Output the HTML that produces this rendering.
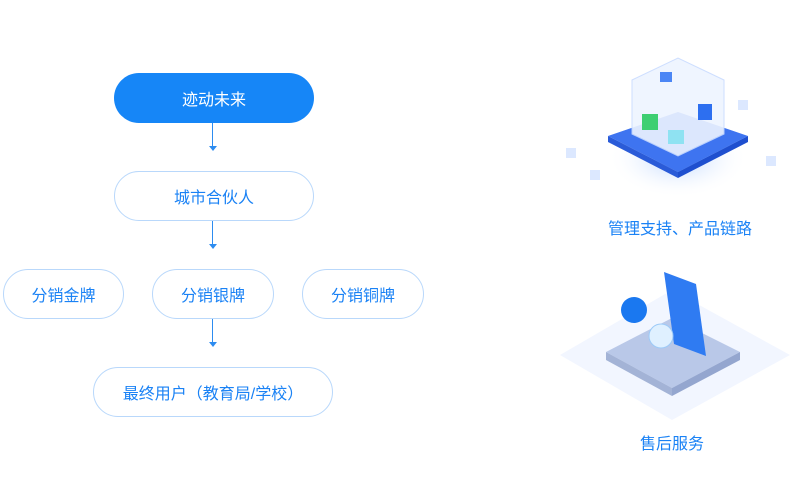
<!DOCTYPE html><html><head><meta charset="utf-8"><style>
body{margin:0;width:810px;height:500px;background:#fff;position:relative;overflow:hidden;font-family:"Liberation Sans","Noto Sans CJK SC",sans-serif}
.n{position:absolute;box-sizing:border-box;border:1px solid #b9d8fb;border-radius:25px;color:#1a82f5;font-size:16px;display:flex;align-items:center;justify-content:center;background:#fff}
.a{position:absolute;left:212px;width:1px;background:#2d8cf0}
.h{position:absolute;left:209px;width:0;height:0;border-left:4px solid transparent;border-right:4px solid transparent;border-top:5px solid #2d8cf0}
.t{position:absolute;color:#1a82f5;font-size:16px;text-align:center}
</style></head><body>
<div class="n" style="left:114px;top:73px;width:200px;height:50px;background:#1686f7;border:none;color:#fff">迹动未来</div>
<div class="a" style="top:123px;height:24px"></div><div class="h" style="top:146px"></div>
<div class="n" style="left:114px;top:171px;width:200px;height:50px">城市合伙人</div>
<div class="a" style="top:221px;height:24px"></div><div class="h" style="top:244px"></div>
<div class="n" style="left:3px;top:269px;width:121px;height:50px">分销金牌</div>
<div class="n" style="left:152px;top:269px;width:122px;height:50px">分销银牌</div>
<div class="n" style="left:302px;top:269px;width:122px;height:50px">分销铜牌</div>
<div class="a" style="top:319px;height:24px"></div><div class="h" style="top:342px"></div>
<div class="n" style="left:93px;top:367px;width:240px;height:50px">最终用户（教育局/学校）</div>
<svg style="position:absolute;left:540px;top:40px" width="260" height="420">
<defs><radialGradient id="g" cx="50%" cy="50%" r="50%"><stop offset="0" stop-color="#9cc2ff" stop-opacity=".7"/><stop offset="1" stop-color="#fff" stop-opacity="0"/></radialGradient></defs>
<ellipse cx="138" cy="118" rx="70" ry="40" fill="url(#g)"/>
<polygon points="68,96 138,72 208,96 138,132" fill="#3e74f0"/>
<polygon points="68,96 138,132 138,138 68,102" fill="#2a5bd8"/>
<polygon points="208,96 138,132 138,138 208,102" fill="#1e4fcf"/>
<polygon points="92,40 138,18 184,40 184,94 138,116 92,94" fill="#eef4ff" stroke="#c8dbff" opacity=".9"/>
<rect x="102" y="74" width="16" height="16" fill="#3ecf72"/><rect x="128" y="90" width="16" height="14" fill="#8fe2f2"/>
<rect x="158" y="64" width="14" height="16" fill="#2d6ff0"/><rect x="120" y="32" width="12" height="10" fill="#4b86f5"/>
<rect x="26" y="108" width="10" height="10" fill="#dce8ff"/><rect x="50" y="130" width="10" height="10" fill="#dce8ff"/><rect x="198" y="60" width="10" height="10" fill="#dce8ff"/><rect x="226" y="116" width="10" height="10" fill="#dce8ff"/>
<polygon points="20,315 132,250 250,315 132,380" fill="#f2f6ff"/>
<polygon points="66,312 132,278 200,312 132,348" fill="#b9c8e8"/>
<polygon points="66,312 132,348 132,356 66,320" fill="#a3b3d6"/><polygon points="200,312 132,348 132,356 200,320" fill="#94a6cf"/>
<polygon points="124,232 156,244 166,316 134,304" fill="#2f7bf2"/>
<circle cx="94" cy="270" r="13" fill="#1a78f0"/><circle cx="121" cy="296" r="12" fill="#dff0ff" stroke="#9ccaf8"/>
</svg>
<div class="t" style="left:580px;top:215px;width:200px">管理支持、产品链路</div>
<div class="t" style="left:590px;top:430px;width:164px">售后服务</div>
</body></html>
